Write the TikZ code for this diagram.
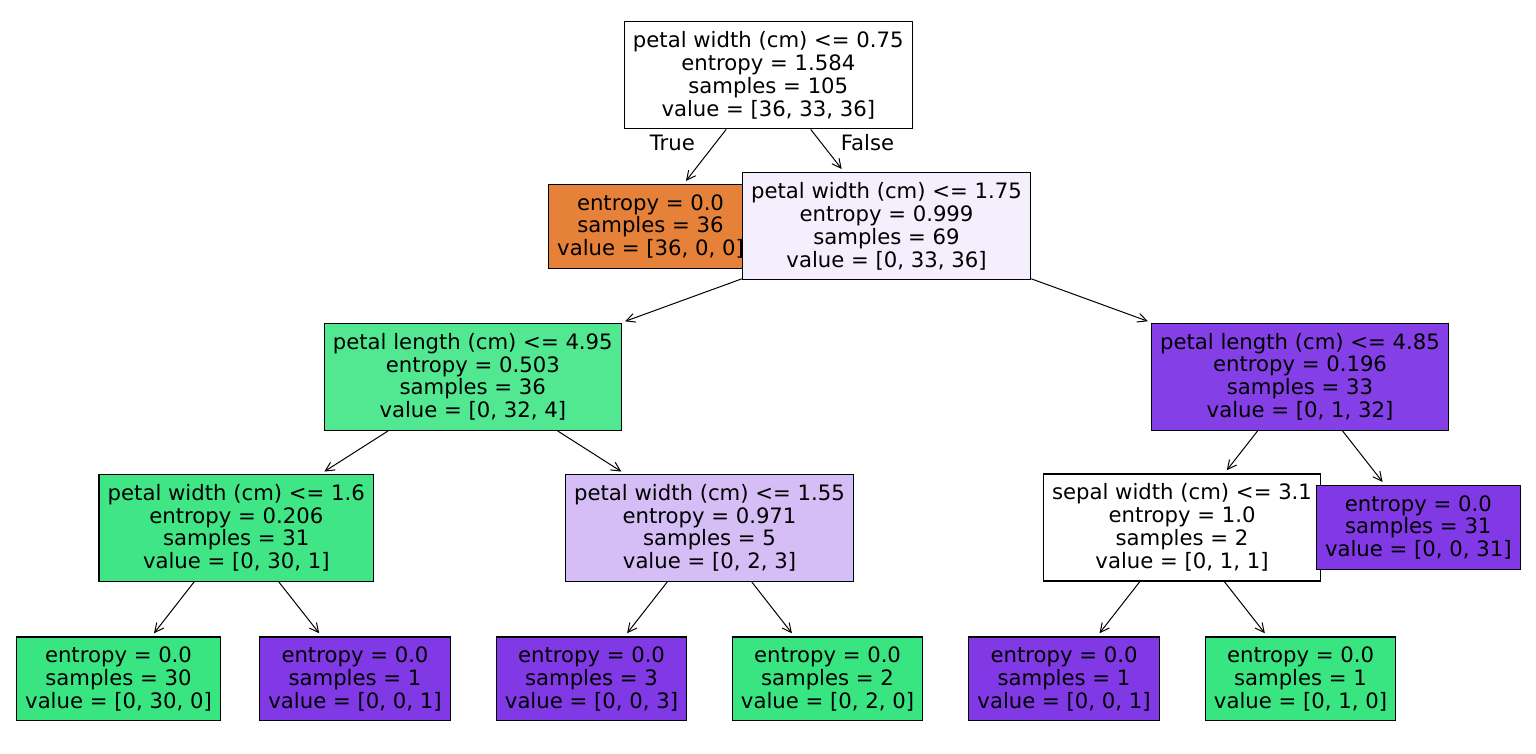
\documentclass[tikz,border=0pt]{standalone}
\usepackage{fontspec}
\setmainfont{DejaVu Sans}
\usepackage{tikz}
\usetikzlibrary{arrows.meta}

\definecolor{orangeleaf}{HTML}{E58139}
\definecolor{greenleaf}{HTML}{39E581}
\definecolor{purpleleaf}{HTML}{8139E5}
\definecolor{greenmid}{HTML}{52E891}
\definecolor{greenhigh}{HTML}{40E685}
\definecolor{purplelow}{HTML}{D5BDF6}
\definecolor{purpletint}{HTML}{F5EFFD}
\definecolor{purplehigh}{HTML}{853FE6}

\begin{document}
\begin{tikzpicture}[x=0.5pt,y=-0.5pt,
	box/.style={draw=black,line width=0.6pt,align=center,
		inner xsep=4.4pt,inner ysep=0pt,
		font=\fontsize{10.6}{11.4}\selectfont},
	splitbox/.style={box,minimum height=53.5pt},
	leafbox/.style={box,minimum height=41.8pt},
	link/.style={-{Straight Barb[length=4.5pt,width=4.5pt]},
		line width=0.5pt,shorten >=2pt}]
	\useasboundingbox (0,0) rectangle (1536,754);
	
	% root and first level
	\node[splitbox,fill=white] (root) at (768.3,75.3)
	{petal width (cm) <= 0.75\\entropy = 1.584\\samples = 105\\value = [36, 33, 36]};
	\node[leafbox,fill=orangeleaf] (setosa) at (650.5,226.5)
	{entropy = 0.0\\samples = 36\\value = [36, 0, 0]};
	\node[splitbox,fill=purpletint] (pw175) at (886.5,226.2)
	{petal width (cm) <= 1.75\\entropy = 0.999\\samples = 69\\value = [0, 33, 36]};
	
	% second level
	\node[splitbox,fill=greenmid] (pl495) at (472.8,376.8)
	{petal length (cm) <= 4.95\\entropy = 0.503\\samples = 36\\value = [0, 32, 4]};
	\node[splitbox,fill=purplehigh] (pl485) at (1300,376.7)
	{petal length (cm) <= 4.85\\entropy = 0.196\\samples = 33\\value = [0, 1, 32]};
	
	% third level
	\node[splitbox,fill=greenhigh] (pw16) at (236.3,527.8)
	{petal width (cm) <= 1.6\\entropy = 0.206\\samples = 31\\value = [0, 30, 1]};
	\node[splitbox,fill=purplelow] (pw155) at (709.5,527.8)
	{petal width (cm) <= 1.55\\entropy = 0.971\\samples = 5\\value = [0, 2, 3]};
	\node[splitbox,fill=white] (sw31) at (1182,527.5)
	{sepal width (cm) <= 3.1\\entropy = 1.0\\samples = 2\\value = [0, 1, 1]};
	\node[leafbox,fill=purpleleaf] (leafd) at (1418.3,527.5)
	{entropy = 0.0\\samples = 31\\value = [0, 0, 31]};
	
	% leaves
	\node[leafbox,fill=greenleaf] (leafa) at (118.5,678.8)
	{entropy = 0.0\\samples = 30\\value = [0, 30, 0]};
	\node[leafbox,fill=purpleleaf] (leafb) at (355,678.8)
	{entropy = 0.0\\samples = 1\\value = [0, 0, 1]};
	\node[leafbox,fill=purpleleaf] (leafc) at (591.5,678.8)
	{entropy = 0.0\\samples = 3\\value = [0, 0, 3]};
	\node[leafbox,fill=greenleaf] (leafe) at (827.5,678.8)
	{entropy = 0.0\\samples = 2\\value = [0, 2, 0]};
	\node[leafbox,fill=purpleleaf] (leaff) at (1064,678.8)
	{entropy = 0.0\\samples = 1\\value = [0, 0, 1]};
	\node[leafbox,fill=greenleaf] (leafg) at (1300.5,678.8)
	{entropy = 0.0\\samples = 1\\value = [0, 1, 0]};
	
	% connectors
	\draw[link] (root) -- (setosa);
	\draw[link] (root) -- (pw175);
	\draw[link] (pw175) -- (pl495);
	\draw[link] (pw175) -- (pl485);
	\draw[link] (pl495) -- (pw16);
	\draw[link] (pl495) -- (pw155);
	\draw[link] (pl485) -- (sw31);
	\draw[link] (pl485) -- (leafd);
	\draw[link] (pw16) -- (leafa);
	\draw[link] (pw16) -- (leafb);
	\draw[link] (pw155) -- (leafc);
	\draw[link] (pw155) -- (leafe);
	\draw[link] (sw31) -- (leaff);
	\draw[link] (sw31) -- (leafg);
	
	\node[anchor=base,font=\fontsize{10.6}{11.4}\selectfont] (truelbl) at (672.3,150.7) {True};
	\node[anchor=base,font=\fontsize{10.6}{11.4}\selectfont] (falselbl) at (867.5,150.7) {False};
\end{tikzpicture}
\end{document}
